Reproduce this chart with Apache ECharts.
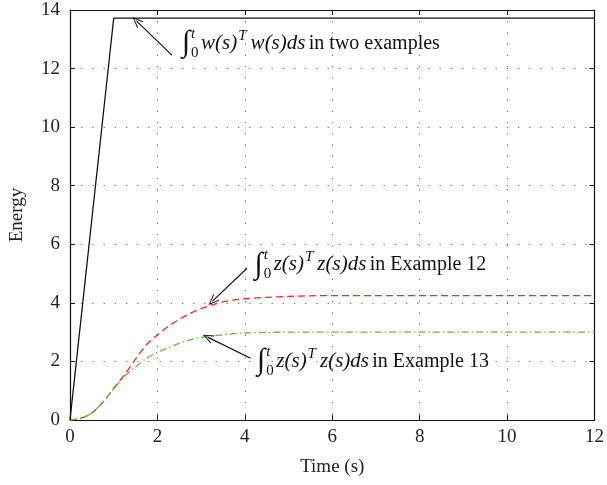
<!DOCTYPE html>
<html><head><meta charset="utf-8">
<script src="https://cdn.jsdelivr.net/npm/echarts@6/dist/echarts.min.js"></script>
<style>html,body{margin:0;padding:0;background:#fff}#c{width:607px;height:485px}</style>
</head><body><div id="c"></div>
<script>
const xTicks = [0,2,4,6,8,10,12];
const yTicks = [0,2,4,6,8,10,12,14];
const wTime = [0, 1, 12];
const wEnergy = [0, 13.72, 13.72];
const zTime = [0,0.25,0.5,0.75,1,1.25,1.5,1.75,2,2.25,2.5,2.75,3,3.25,3.5,3.75,4,4.5,5,5.5,6,7,8,9,10,11,12];
const z12 = [0,0.06,0.24,0.6,1.08,1.55,2.08,2.57,2.9,3.2,3.44,3.64,3.8,3.93,4.03,4.1,4.14,4.19,4.22,4.24,4.25,4.25,4.25,4.25,4.25,4.25,4.25];
const z13 = [0,0.06,0.24,0.6,1.06,1.49,1.82,2.1,2.31,2.47,2.62,2.74,2.82,2.87,2.91,2.95,2.97,2.99,3.0,3.0,3.0,3.0,3.0,3.0,3.0,3.0,3.0];
const labelW = ['w(s)', 'w(s)ds', 'in two examples'];
const label12 = ['z(s)', 'z(s)ds', 'in Example 12'];
const label13 = ['z(s)', 'z(s)ds', 'in Example 13'];
const annotAnchors = [[2.56, 12.86], [4.22, 5.3], [4.28, 2.0]];
const arrows = [[[2.33, 12.46],[1.52, 13.63]], [[4.05, 5.18],[3.26, 4.06]], [[4.13, 2.11],[3.15, 2.83]]];

const F = 'Liberation Serif';
function fmt(p){ return '{int|∫}{sub|0}{sup|t}{it|'+p[0]+'}{supT|T}{it|'+p[1]+'} {rm|'+p[2]+'}'; }
const rich = {
  int:{fontFamily:F,fontSize:30,lineHeight:36,color:'#111',padding:[0,1,0,0]},
  sub:{fontFamily:F,fontSize:15,color:'#111',verticalAlign:'bottom',width:0,padding:[0,0,1,0]},
  sup:{fontFamily:F,fontSize:15,fontStyle:'italic',color:'#111',verticalAlign:'top',width:10,padding:[1,0,0,0]},
  it:{fontFamily:F,fontSize:21,fontStyle:'italic',color:'#111'},
  supT:{fontFamily:F,fontSize:15,fontStyle:'italic',color:'#111',verticalAlign:'top',padding:[3,4,0,1]},
  rm:{fontFamily:F,fontSize:20,color:'#111'}
};
const texts = [labelW, label12, label13];
const grid = {left:68,right:10,top:10,bottom:65};
const axisText = {fontFamily:F,fontSize:19,color:'#222'};
const split = {show:true,lineStyle:{color:'#666',type:[1.2,10],width:1}};
const chart = echarts.init(document.getElementById('c'),null,{renderer:'canvas'});
chart.setOption({
  animation:false,
  grid:grid,
  xAxis:[{type:'value',min:0,max:12,interval:2,position:'bottom',
    name:'Time (s)',nameLocation:'middle',nameGap:38,nameTextStyle:{fontFamily:F,fontSize:19,color:'#222'},
    axisLine:{show:true,lineStyle:{color:'#111',width:1.2}},axisTick:{inside:true,length:5,lineStyle:{color:'#111'}},
    axisLabel:Object.assign({margin:8,formatter:v=>xTicks.includes(v)?String(v):''},axisText),splitLine:split},
   {type:'value',min:0,max:12,interval:2,position:'top',axisLine:{show:true,onZero:false,lineStyle:{color:'#111',width:1.2}},
    axisTick:{inside:true,length:5,lineStyle:{color:'#111'}},axisLabel:{show:false},splitLine:{show:false}}],
  yAxis:[{type:'value',min:0,max:14,interval:2,position:'left',
    name:'Energy',nameLocation:'middle',nameGap:43,nameTextStyle:{fontFamily:F,fontSize:19,color:'#222'},
    axisLine:{show:true,lineStyle:{color:'#111',width:1.2}},axisTick:{inside:true,length:5,lineStyle:{color:'#111'}},
    axisLabel:Object.assign({margin:10,formatter:v=>yTicks.includes(v)?String(v):''},axisText),splitLine:split},
   {type:'value',min:0,max:14,interval:2,position:'right',axisLine:{show:true,onZero:false,lineStyle:{color:'#111',width:1.2}},
    axisTick:{inside:true,length:5,lineStyle:{color:'#111'}},axisLabel:{show:false},splitLine:{show:false}}],
  series:[
    {type:'line',name:'w',data:wTime.map((t,i)=>[t,wEnergy[i]]),showSymbol:false,symbol:'none',
      lineStyle:{color:'#111',width:1.3},z:5,
      markLine:{silent:true,symbol:['none','path://M5,0 L10,12 L8.8,12 L5,2.6 L1.2,12 L0,12 Z'],symbolSize:[9,11],
        label:{show:false},lineStyle:{color:'#111',type:'solid',width:1.2},
        data:arrows.map(a=>[{coord:a[0]},{coord:a[1]}])},
      markPoint:{silent:true,symbol:'circle',symbolSize:0,
        data:annotAnchors.map((c,i)=>({coord:c,label:{show:true,position:'right',distance:0,formatter:fmt(texts[i]),rich:rich}}))}
    },
    {type:'line',name:'z12',data:zTime.map((t,i)=>[t,z12[i]]),showSymbol:false,symbol:'none',smooth:0.3,
      lineStyle:{color:'#ff2424',width:1.3,type:[7,4]}},
    {type:'line',name:'z13',data:zTime.map((t,i)=>[t,z13[i]]),showSymbol:false,symbol:'none',smooth:0.3,
      lineStyle:{color:'#66bb33',width:1.3,type:[7,3,1.5,3]}}
  ]
});
</script></body></html>
